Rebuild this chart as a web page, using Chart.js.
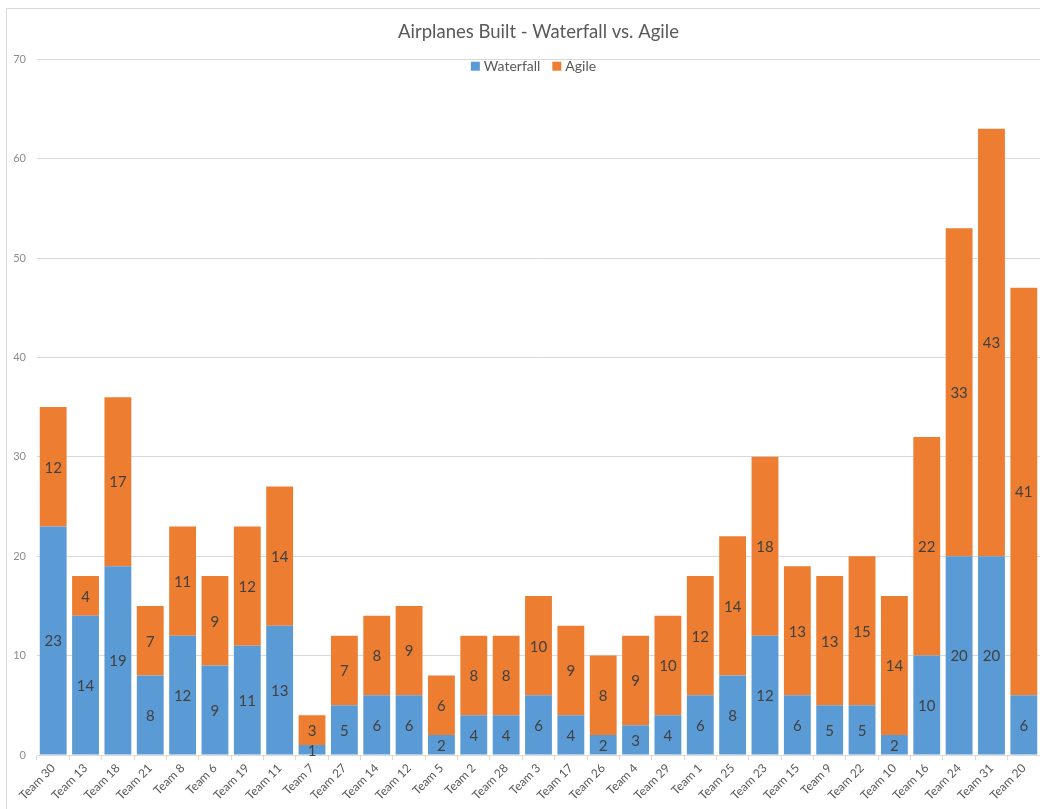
<!DOCTYPE html>
<html>
<head>
<meta charset="utf-8">
<title>Airplanes Built - Waterfall vs. Agile</title>
<script src="https://cdn.jsdelivr.net/npm/chart.js@4/dist/chart.umd.min.js"></script>
<style>
    html, body { margin: 0; padding: 0; background: #fff; }
    #wrap { position: relative; width: 1040px; height: 809px; overflow: hidden; }
</style>
</head>
<body>
<div id="wrap"><canvas id="barChart"></canvas></div>
<script>
const teams = ['Team 30', 'Team 13', 'Team 18', 'Team 21', 'Team 8', 'Team 6', 'Team 19', 'Team 11',
    'Team 7', 'Team 27', 'Team 14', 'Team 12', 'Team 5', 'Team 2', 'Team 28', 'Team 3', 'Team 17',
    'Team 26', 'Team 4', 'Team 29', 'Team 1', 'Team 25', 'Team 23', 'Team 15', 'Team 9', 'Team 22',
    'Team 10', 'Team 16', 'Team 24', 'Team 31', 'Team 20'];
const waterfall = [23, 14, 19, 8, 12, 9, 11, 13, 1, 5, 6, 6, 2, 4, 4, 6, 4, 2, 3, 4, 6, 8, 12, 6, 5, 5, 2, 10, 20, 20, 6];
const agile = [12, 4, 17, 7, 11, 9, 12, 14, 3, 7, 8, 9, 6, 8, 8, 10, 9, 8, 9, 10, 12, 14, 18, 13, 13, 15, 14, 22, 33, 43, 41];
const yTicks = [0, 10, 20, 30, 40, 50, 60, 70];

const colors = {
    blue: '#5b9bd5',
    orange: '#ed7d31',
    grid: '#d9d9d9',
    text: '#595959',
    label: '#404040'
};

const fontFamily = "Lato, 'Open Sans', sans-serif";
Chart.defaults.font.family = fontFamily;

// thin frame like the original chart box
const framePlugin = {
    id: 'frame',
    beforeDraw(chart) {
        const ctx = chart.ctx;
        ctx.save();
        ctx.strokeStyle = colors.grid;
        ctx.lineWidth = 1;
        ctx.beginPath();
        ctx.moveTo(6.5, chart.height);
        ctx.lineTo(6.5, 8.5);
        ctx.lineTo(chart.width, 8.5);
        ctx.stroke();
        ctx.restore();
    }
};

// legend sits just inside the top of the plot, centred
const topLegend = {
    id: 'topLegend',
    afterDraw(chart) {
        const ctx = chart.ctx;
        const items = chart.data.datasets.map(ds => ({ text: ds.label, color: ds.backgroundColor }));
        ctx.save();
        ctx.font = '14px ' + fontFamily;
        ctx.textBaseline = 'middle';
        const box = 9, gap = 4, spacing = 12;
        let total = 0;
        items.forEach((it, i) => {
            it.w = box + gap + ctx.measureText(it.text).width;
            total += it.w + (i ? spacing : 0);
        });
        let x = (chart.chartArea.left + chart.chartArea.right) / 2 - total / 2 - 5;
        const y = chart.chartArea.top + 7;
        items.forEach(it => {
            ctx.fillStyle = it.color;
            ctx.fillRect(x, y - box / 2, box, box);
            ctx.fillStyle = colors.text;
            ctx.fillText(it.text, x + box + gap, y);
            x += it.w + spacing;
        });
        ctx.restore();
    }
};

// value labels centred in each stacked segment
const segmentLabels = {
    id: 'segmentLabels',
    afterDatasetsDraw(chart) {
        const ctx = chart.ctx;
        ctx.save();
        ctx.font = '15px ' + fontFamily;
        ctx.fillStyle = colors.label;
        ctx.textAlign = 'center';
        ctx.textBaseline = 'middle';
        chart.data.datasets.forEach((ds, i) => {
            const meta = chart.getDatasetMeta(i);
            meta.data.forEach((bar, j) => {
                const p = bar.getProps(['x', 'y', 'base'], true);
                ctx.fillText(String(ds.data[j]), p.x, (p.y + p.base) / 2 + 1);
            });
        });
        ctx.restore();
    }
};

new Chart(document.getElementById('barChart').getContext('2d'), {
    type: 'bar',
    data: {
        labels: teams,
        datasets: [
            {
                label: 'Waterfall',
                data: waterfall,
                backgroundColor: colors.blue,
                categoryPercentage: 1,
                barPercentage: 0.83
            },
            {
                label: 'Agile',
                data: agile,
                backgroundColor: colors.orange,
                categoryPercentage: 1,
                barPercentage: 0.83
            }
        ]
    },
    options: {
        responsive: true,
        maintainAspectRatio: false,
        animation: false,
        layout: { padding: { top: 8, left: 0, right: 0, bottom: 0 } },
        plugins: {
            title: {
                display: true,
                fullSize: false,
                text: 'Airplanes Built - Waterfall vs. Agile',
                color: colors.text,
                font: { size: 18.5, weight: 'normal' },
                padding: { top: 13, bottom: 16 }
            },
            legend: { display: false },
            tooltip: { enabled: false }
        },
        scales: {
            x: {
                stacked: true,
                grid: {
                    drawOnChartArea: false,
                    drawTicks: true,
                    tickLength: 5,
                    color: colors.grid
                },
                border: { display: true, color: colors.grid },
                ticks: {
                    autoSkip: false,
                    minRotation: 45,
                    maxRotation: 45,
                    padding: 1,
                    color: colors.text,
                    font: { size: 12 }
                },
                afterFit(scale) { scale.height = 54; }
            },
            y: {
                stacked: true,
                min: 0,
                max: 70,
                afterBuildTicks(scale) { scale.ticks = yTicks.map(v => ({ value: v })); },
                grid: { color: colors.grid, drawTicks: false },
                border: { display: false },
                ticks: {
                    padding: 11,
                    color: '#8c8c8c',
                    font: { size: 11 }
                },
                afterFit(scale) { scale.width = 37; }
            }
        }
    },
    plugins: [framePlugin, topLegend, segmentLabels]
});
</script>
</body>
</html>
